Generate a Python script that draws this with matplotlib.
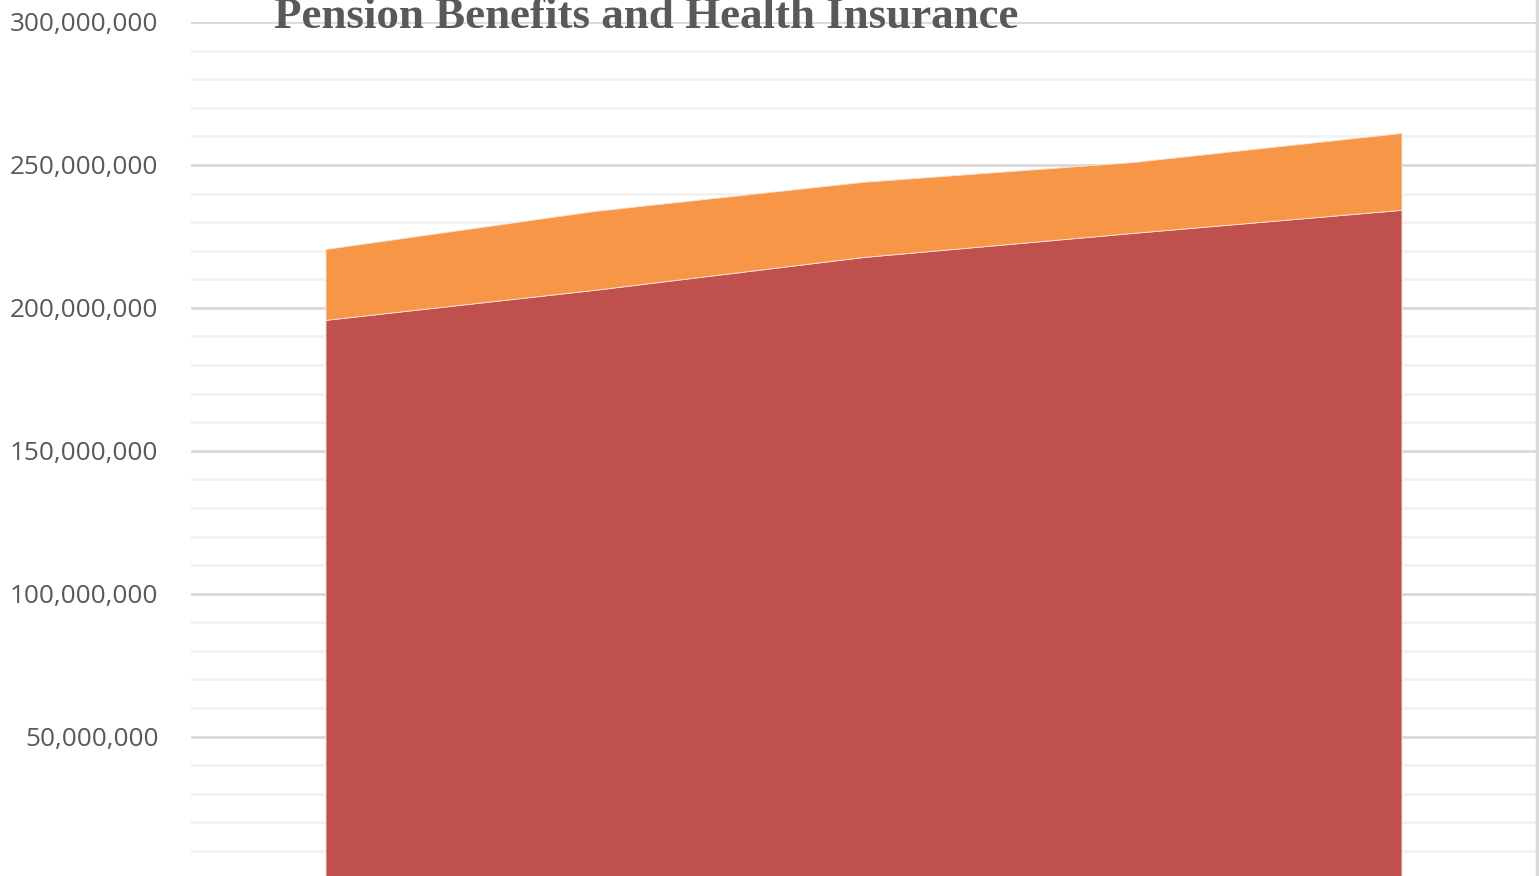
import matplotlib.pyplot as plt
from matplotlib.lines import Line2D
from matplotlib.ticker import FuncFormatter, MultipleLocator
import numpy as np

# stacked series, one value per period
periods = [0, 1, 2, 3, 4]
pension = [195.8e6, 206.3e6, 217.8e6, 226.2e6, 234.3e6]
health = [24.8e6, 27.6e6, 26.3e6, 24.8e6, 26.9e6]

W, H, DPI = 1539, 876, 100
fig = plt.figure(figsize=(W / DPI, H / DPI), dpi=DPI)

left, right = 191 / W, 1536 / W
y_zero = 879.6
y_top = 22.0
ax = fig.add_axes([left, (H - y_zero) / H, right - left, (y_zero - y_top) / H])

ax.stackplot(periods, pension, health, colors=["#C0504D", "#F79646"],
             edgecolor="#FBE3D6", linewidth=0.6, zorder=3)

ax.set_xlim(-0.5, 4.5)
ax.set_ylim(0, 300e6)
ax.yaxis.set_major_locator(MultipleLocator(50e6))
ax.yaxis.set_minor_locator(MultipleLocator(10e6))
ax.yaxis.set_major_formatter(FuncFormatter(lambda v, p: "" if v == 0 else f"{v:,.0f}"))
ax.grid(axis="y", which="major", color="#D9D9D9", linewidth=2.0, zorder=1)
ax.grid(axis="y", which="minor", color="#F2F2F2", linewidth=2.0, zorder=1)
ax.set_axisbelow(True)
ax.tick_params(axis="y", which="both", length=0, pad=23.5, labelsize=18.8,
               labelcolor="#595959")
ax.tick_params(axis="x", which="both", length=0, labelbottom=False)
for lbl in ax.get_yticklabels():
    lbl.set_fontfamily("Open Sans")
for s in ax.spines.values():
    s.set_visible(False)

# chart border on the right
fig.add_artist(Line2D([1537 / W, 1537 / W], [0, 1], color="#D9D9D9",
                      linewidth=2.5, transform=fig.transFigure))

fig.text(646 / W, (H - 28) / H, "Pension Benefits and Health Insurance",
         ha="center", va="baseline", fontsize=32.4, fontweight="bold",
         family="Liberation Serif", color="#595959")

fig.savefig("out.png", dpi=DPI, facecolor="white")
